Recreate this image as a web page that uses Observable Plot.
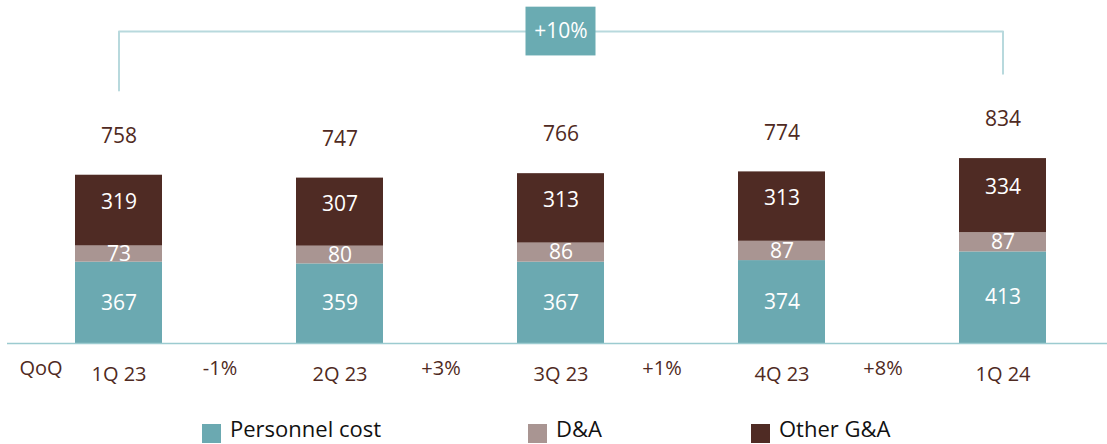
<!DOCTYPE html>
<html>
<head>
<meta charset="utf-8">
<script src="https://cdn.jsdelivr.net/npm/d3@7"></script>
<script src="https://cdn.jsdelivr.net/npm/@observablehq/plot@0.6"></script>
<style>
  html, body { margin: 0; padding: 0; background: #fff; overflow: hidden; }
  body { width: 1107px; height: 444px; font-family: "Open Sans", Lato, sans-serif; }
  #legend { display: flex; margin-top: 7px; padding-left: 202px; font-size: 22px; line-height: 22px; color: #111; }
  #legend .item { display: flex; align-items: flex-start; }
  #legend .item:nth-child(1) { width: 326px; }
  #legend .item:nth-child(2) { width: 223px; }
  #legend .sw { width: 19px; height: 19px; margin-top: 7px; margin-right: 9px; }
</style>
</head>
<body>
<div id="chart"></div>
<div id="legend"></div>
<script>
const categories = ["1Q 23", "2Q 23", "3Q 23", "4Q 23", "1Q 24"];
const personnel = [367, 359, 367, 374, 413];
const da = [73, 80, 86, 87, 87];
const otherGA = [319, 307, 313, 313, 334];
const totals = [758, 747, 766, 774, 834];
const qoq = ["-1%", "+3%", "+1%", "+8%"];
const qoqTitle = "QoQ";
const overallChange = "+10%";
const seriesNames = ["Personnel cost", "D&A", "Other G&A"];
const seriesColors = ["#6ba9b1", "#a99592", "#4f2b24"];

const brown = "#4f2a22";
const seriesValues = [personnel, da, otherGA];

// stacked rows
const rows = [];
categories.forEach((c, i) => {
  let base = 0;
  seriesNames.forEach((s, k) => {
    const v = seriesValues[k][i];
    rows.push({cat: c, series: s, value: v, y1: base, y2: base + v, mid: base + v / 2});
    base += v;
  });
});

const totalRows = categories.map((c, i) => ({cat: c, total: totals[i]}));
const qoqRows = qoq.map((t, i) => ({cat: categories[i], text: t}));

// bracket annotation (derived from totals)
const bracketTop = 1407;
const bracketGap = 383;
const bracket = [
  {cat: categories[0], y: totals[0] + bracketGap},
  {cat: categories[0], y: bracketTop},
  {cat: categories[categories.length - 1], y: bracketTop},
  {cat: categories[categories.length - 1], y: totals[totals.length - 1] + bracketGap}
];
const boxHalf = 110;
const boxRows = [{cat: categories[2], text: overallChange, y1: bracketTop - boxHalf, y2: bracketTop + boxHalf, y: bracketTop}];
const titleRows = [{cat: categories[0], text: qoqTitle}];

const font = "'Open Sans', Lato, sans-serif";

const chart = Plot.plot({
  width: 1107,
  height: 410,
  marginTop: 6,
  marginBottom: 67,
  marginLeft: 7,
  marginRight: 0,
  style: {fontFamily: font, background: "#fff", overflow: "visible"},
  x: {domain: categories, range: [0, 1121], paddingInner: 0.606, paddingOuter: 0.339, axis: null},
  y: {domain: [0, 1520], axis: null},
  color: {domain: seriesNames, range: seriesColors},
  marks: [
    Plot.barY(rows, {x: "cat", y1: "y1", y2: "y2", fill: "series"}),
    Plot.ruleY([0], {stroke: "#9ccbd0", strokeWidth: 1.5}),
    Plot.text(rows.filter(d => d.series !== "Other G&A"), {x: "cat", y: "mid", text: d => String(d.value), fill: "#fff", fontSize: 21}),
    Plot.text(rows.filter(d => d.series === "Other G&A"), {x: "cat", y: "mid", text: d => String(d.value), fill: "#fff", fontSize: 21, dy: -8}),
    Plot.text(totalRows, {x: "cat", y: "total", text: d => String(d.total), fill: brown, fontSize: 21, dy: -39}),
    Plot.text(categories, {x: d => d, y: 0, text: d => d, fill: brown, fontSize: 20, dy: 31}),
    Plot.text(qoqRows, {x: "cat", y: 0, text: "text", fill: brown, fontSize: 20, dy: 25, dx: 101}),
    Plot.text(titleRows, {x: "cat", y: 0, text: "text", fill: brown, fontSize: 20, dy: 25, dx: -78}),
    Plot.line(bracket, {x: "cat", y: "y", stroke: "#b8d9dd", strokeWidth: 2, curve: "linear"}),
    Plot.barY(boxRows, {x: "cat", y1: "y1", y2: "y2", fill: "#6aabb2", insetLeft: 8.5, insetRight: 8.5}),
    Plot.text(boxRows, {x: "cat", y: "y", text: "text", fill: "#fff", fontSize: 21})
  ]
});
document.getElementById("chart").appendChild(chart);

const legend = document.getElementById("legend");
seriesNames.forEach((s, k) => {
  const item = document.createElement("div");
  item.className = "item";
  const sw = document.createElement("div");
  sw.className = "sw";
  sw.style.background = seriesColors[k];
  const lab = document.createElement("span");
  lab.textContent = s;
  item.appendChild(sw);
  item.appendChild(lab);
  legend.appendChild(item);
});
</script>
</body>
</html>
